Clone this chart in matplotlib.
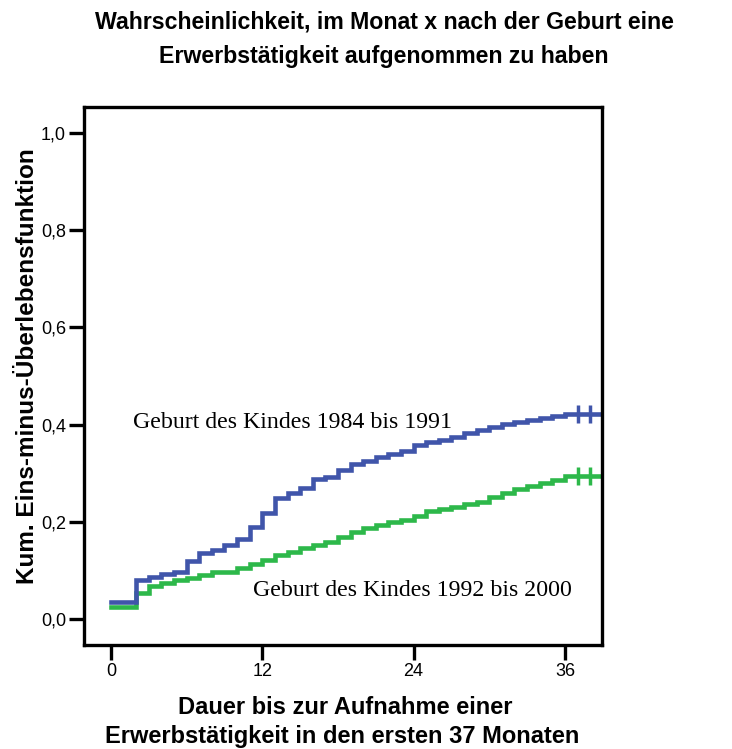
import matplotlib
matplotlib.use("Agg")
import matplotlib.pyplot as plt

months = list(range(0, 37))
blue_vals = [0.035, 0.035, 0.080, 0.086, 0.093, 0.097, 0.120, 0.136, 0.143, 0.153,
             0.165, 0.190, 0.218, 0.249, 0.259, 0.270, 0.288, 0.292, 0.307, 0.319,
             0.325, 0.333, 0.340, 0.346, 0.358, 0.364, 0.368, 0.375, 0.383, 0.389,
             0.395, 0.401, 0.405, 0.409, 0.413, 0.418, 0.422]
green_vals = [0.025, 0.025, 0.053, 0.068, 0.074, 0.080, 0.085, 0.091, 0.098, 0.098,
              0.106, 0.114, 0.122, 0.132, 0.138, 0.146, 0.152, 0.158, 0.169, 0.179,
              0.187, 0.193, 0.200, 0.204, 0.212, 0.222, 0.226, 0.231, 0.237, 0.242,
              0.251, 0.259, 0.267, 0.274, 0.280, 0.286, 0.294]
censor_months = [37, 38, 39]
end_month = 39
label_blue = "Geburt des Kindes 1984 bis 1991"
label_green = "Geburt des Kindes 1992 bis 2000"
xticks = [0, 12, 24, 36]
yticks = [0.0, 0.2, 0.4, 0.6, 0.8, 1.0]
ytick_labels = ["0,0", "0,2", "0,4", "0,6", "0,8", "1,0"]

BLUE = "#4055AA"
GREEN = "#2DB84A"

fig = plt.figure(figsize=(7.32, 7.49), dpi=100)
ax = fig.add_axes([84/732, 1 - 645/749, (602-84)/732, (645-107)/749])

for vals, col in [(green_vals, GREEN), (blue_vals, BLUE)]:
    xs = months + [end_month]
    ys = vals + [vals[-1]]
    ax.step(xs, ys, where="post", color=col, lw=3.3, solid_joinstyle="miter")
    ax.plot(censor_months, [vals[-1]] * len(censor_months), linestyle="none",
            marker="|", markersize=13, markeredgewidth=2.5, color=col, clip_on=True)

ax.set_xlim(-2.14, 38.94)
ax.set_ylim(-0.053, 1.053)
ax.set_xticks(xticks)
ax.set_xticklabels([str(t) for t in xticks])
ax.set_yticks(yticks)
ax.set_yticklabels(ytick_labels)

for s in ax.spines.values():
    s.set_linewidth(2.4)
ax.tick_params(axis="both", direction="out", length=11, width=2.4, labelsize=13,
               pad=2)
for lab in ax.get_xticklabels() + ax.get_yticklabels():
    lab.set_fontfamily("Liberation Sans")

ax.text(1.74, 0.405, label_blue, family="Liberation Serif", fontsize=17.2,
        ha="left", va="center")
ax.text(11.26, 0.06, label_green, family="Liberation Serif", fontsize=17.2,
        ha="left", va="center")

fig.text(384/732, 1 - 22/749, "Wahrscheinlichkeit, im Monat x nach der Geburt eine",
         ha="center", va="center", family="Liberation Sans", fontweight="bold",
         fontsize=16.7)
fig.text(384/732, 1 - 57/749, "Erwerbstätigkeit aufgenommen zu haben",
         ha="center", va="center", family="Liberation Sans", fontweight="bold",
         fontsize=16.7)

fig.text(345/732, 1 - 708/749, "Dauer bis zur Aufnahme einer",
         ha="center", va="center", family="Liberation Sans", fontweight="bold",
         fontsize=17)
fig.text(342/732, 1 - 737/749, "Erwerbstätigkeit in den ersten 37 Monaten",
         ha="center", va="center", family="Liberation Sans", fontweight="bold",
         fontsize=17)

fig.text(28/732, 1 - 366/749, "Kum. Eins-minus-Überlebensfunktion",
         ha="center", va="center", rotation=90, family="Liberation Sans",
         fontweight="bold", fontsize=17.5)

fig.savefig("out.png", dpi=100)
